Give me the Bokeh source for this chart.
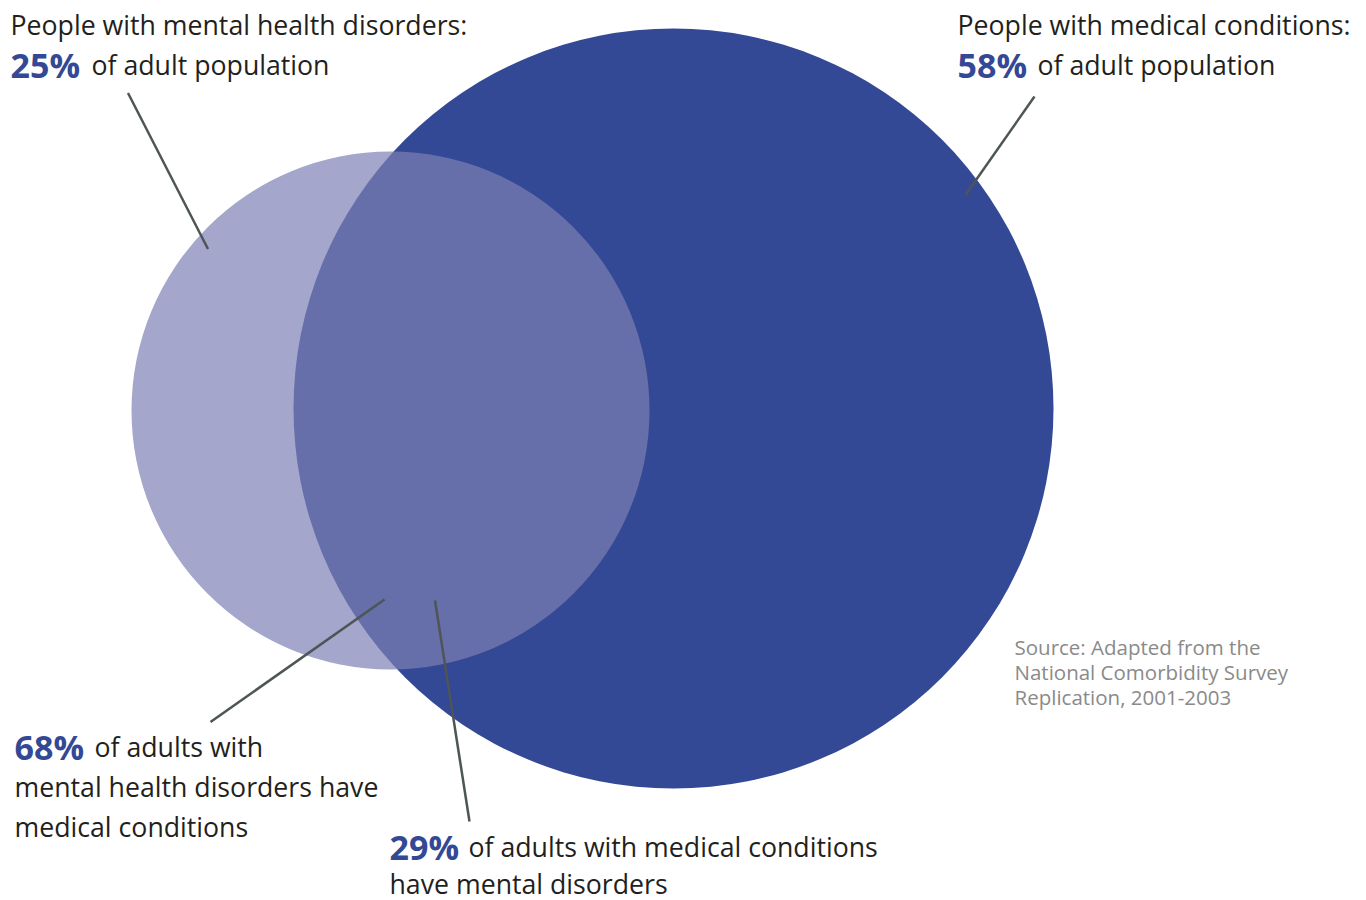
from bokeh.plotting import figure
from bokeh.models import Range1d
from bokeh.core.properties import value
from bokeh.embed import file_html
from bokeh.resources import INLINE

# ---- data ----
groups = ["People with mental health disorders", "People with medical conditions"]
population_share = [25, 58]          # % of adult population
overlap_share = [68, 29]             # % overlap statements
source_lines = ["Source: Adapted from the", "National Comorbidity Survey", "Replication, 2001-2003"]

# ---- layout (pixel coordinates of the page) ----
W, H = 1366, 900
FONT = "Open Sans"
BLUE = "#344995"
LIGHT = "#7E80B5"
TXT = "#231F20"
LINE = "#4D5556"
DY = -11  # baseline correction

p = figure(width=W, height=H, output_backend="svg", toolbar_location=None,
           x_range=Range1d(0, W), y_range=Range1d(H, 0),
           min_border=0, min_border_left=0, min_border_right=0,
           min_border_top=0, min_border_bottom=0)
p.axis.visible = False
p.grid.visible = False
p.outline_line_color = None
p.background_fill_color = "white"
p.border_fill_color = "white"

# circles: medical (large) drawn first, mental (small) on top with transparency
centers_x = [390, 673]
centers_y = [410, 408]
radii = [259, 380]
p.circle(x=[centers_x[1]], y=[centers_y[1]], radius=radii[1], fill_color=BLUE,
         line_color=None)
p.circle(x=[centers_x[0]], y=[centers_y[0]], radius=radii[0], fill_color=LIGHT,
         fill_alpha=0.7, line_color=None)

# leader lines
lead_x0 = [127.5, 1034, 384, 434.5]
lead_y0 = [92.5, 96, 599, 600]
lead_x1 = [207.5, 965, 210, 469]
lead_y1 = [248.5, 194.5, 721.5, 821]
p.segment(x0=lead_x0, y0=lead_y0, x1=lead_x1, y1=lead_y1, line_color=LINE, line_width=2.5)

def txt(x, y, s, size="26.7px", color=TXT, style="normal"):
    p.text(x=[x], y=[y + DY], text=[s], text_font=value(FONT), text_font_size=size,
           text_color=color, text_font_style=style, text_baseline="alphabetic",
           text_align="left")

BIG = "34px"
# top-left block
txt(10, 35, groups[0] + ":")
txt(10, 75, f"{population_share[0]}%", size=BIG, color=BLUE, style="bold")
txt(91, 75, "of adult population")

# top-right block
txt(957, 35, groups[1] + ":")
txt(957, 75, f"{population_share[1]}%", size=BIG, color=BLUE, style="bold")
txt(1037, 75, "of adult population")

# bottom-left block
txt(14, 757, f"{overlap_share[0]}%", size=BIG, color=BLUE, style="bold")
txt(94, 757, "of adults with")
txt(14, 797, "mental health disorders have")
txt(14, 837, "medical conditions")

# bottom-center block
txt(389, 857, f"{overlap_share[1]}%", size=BIG, color=BLUE, style="bold")
txt(468, 857, "of adults with medical conditions")
txt(389, 894, "have mental disorders")

# source
for i, s in enumerate(source_lines):
    txt(1014, 657 + 25 * i, s, size="20.5px", color="#8A8A8A")

open("out.html", "w").write(file_html(p, INLINE))
